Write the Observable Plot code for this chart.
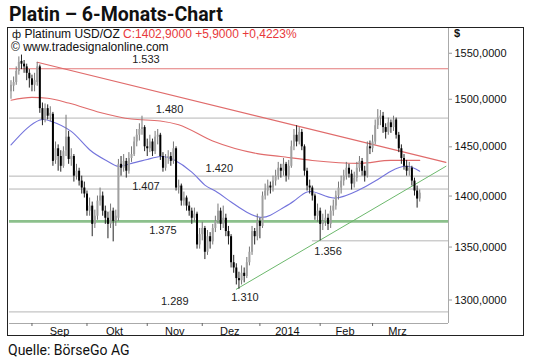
<!DOCTYPE html>
<html><head><meta charset="utf-8">
<script src="https://cdn.jsdelivr.net/npm/d3@7"></script>
<script src="https://cdn.jsdelivr.net/npm/@observablehq/plot@0.6"></script>
<style>
html,body{margin:0;padding:0;background:#fff;}
body{width:540px;height:360px;position:relative;overflow:hidden;font-family:"Liberation Sans",Arial,sans-serif;}
#title{position:absolute;left:9px;top:2px;font:700 19.5px/26px Roboto,sans-serif;color:#111;white-space:nowrap;}
#caption{position:absolute;left:8px;top:342px;font:400 14px/16px Roboto,sans-serif;color:#111;white-space:nowrap;}
#box{position:absolute;left:7px;top:27px;width:515px;height:307px;border:1.5px solid #222;background:#fff;}
#box svg{position:absolute;left:0;top:0;}
.ov{position:absolute;font:12px/12px "Liberation Sans",Arial,sans-serif;color:#111;white-space:nowrap;}
.red{color:#e8393b;}
</style></head>
<body>
<div id="title">Platin – 6-Monats-Chart</div>
<div id="box">
  <div class="ov" style="left:4px;top:0px;"><span style="font-size:11px">ф</span> Platinum USD/OZ <span class="red">C:1402,9000 +5,9000 +0,4223%</span></div>
  <div class="ov" style="left:3px;top:13.7px;line-height:11px;">© www.tradesignalonline.com</div>
  <div class="ov" style="left:446px;top:-1px;font-size:11px;font-weight:bold;">$</div>
</div>
<div id="caption">Quelle: BörseGo AG</div>
<script>
// ---- data (Platinum USD/OZ daily candles, 2013-08-21 .. 2014-03-27) ----
const firstDay = "2013-08-21";
const opens = [1508,1514,1518,1530,1541,1538,1535,1528,1522,1515,1518,1535,1490,1478,1490,1482,1484,1436,1448,1440,
1430,1446,1460,1437,1440,1420,1425,1415,1408,1402,1385,1390,1372,1380,1395,1400,1385,1378,1372,1385,
1375,1378,1432,1428,1435,1425,1438,1442,1455,1462,1468,1470,1450,1448,1455,1445,1460,1462,1440,1428,
1438,1440,1435,1448,1408,1410,1395,1398,1390,1385,1378,1382,1352,1362,1368,1345,1360,1355,1368,1375,
1385,1372,1378,1365,1360,1335,1330,1320,1318,1325,1322,1335,1345,1365,1360,1375,1370,1400,1405,1410,
1408,1415,1420,1428,1425,1432,1420,1430,1450,1462,1455,1465,1450,1425,1410,1408,1400,1380,1385,1372,
1375,1378,1372,1385,1390,1400,1408,1415,1420,1428,1422,1412,1418,1428,1435,1425,1420,1450,1448,1455,
1472,1480,1482,1470,1465,1475,1470,1478,1462,1448,1438,1430,1425,1428,1415,1405,1397];
const highs = [1520,1524,1535,1546,1548,1542,1538,1532,1526,1528,1540,1537,1496,1495,1494,1492,1486,1455,1452,1446,
1450,1483,1466,1448,1442,1432,1428,1420,1414,1405,1398,1394,1386,1400,1408,1404,1390,1384,1392,1388,
1386,1437,1440,1442,1438,1444,1450,1460,1468,1474,1482,1472,1458,1462,1458,1466,1468,1464,1444,1442,
1446,1444,1455,1450,1416,1412,1404,1400,1394,1388,1388,1384,1368,1374,1370,1366,1364,1372,1380,1392,
1388,1390,1382,1370,1362,1342,1334,1326,1332,1330,1340,1350,1370,1368,1382,1378,1404,1412,1416,1414,
1420,1426,1434,1432,1438,1434,1436,1456,1468,1472,1470,1468,1452,1428,1416,1410,1402,1392,1388,1382,
1386,1382,1390,1396,1405,1414,1420,1426,1434,1432,1426,1424,1434,1440,1438,1430,1455,1456,1462,1478,
1489,1488,1486,1474,1480,1478,1482,1480,1465,1452,1442,1436,1434,1430,1418,1410,1406];
const lows = [1500,1508,1515,1526,1532,1528,1520,1512,1508,1508,1514,1485,1472,1475,1478,1476,1430,1432,1425,1424,
1428,1440,1432,1430,1414,1416,1410,1402,1398,1380,1380,1360,1368,1376,1390,1380,1372,1358,1368,1355,
1370,1375,1420,1424,1418,1422,1434,1440,1450,1456,1462,1445,1440,1444,1440,1442,1452,1436,1424,1425,
1432,1430,1432,1405,1402,1390,1390,1385,1380,1372,1374,1348,1348,1356,1338,1342,1348,1352,1364,1372,
1366,1368,1360,1352,1330,1325,1314,1310,1314,1316,1320,1332,1342,1352,1356,1358,1368,1396,1400,1402,
1404,1410,1416,1418,1420,1414,1416,1428,1446,1450,1452,1446,1420,1405,1402,1395,1376,1374,1356,1366,
1370,1366,1368,1380,1386,1396,1402,1410,1416,1418,1406,1408,1414,1424,1420,1414,1418,1442,1444,1452,
1468,1472,1464,1458,1462,1464,1466,1458,1444,1432,1426,1420,1420,1410,1400,1388,1394];
const closes = [1515,1518,1530,1540,1538,1535,1528,1522,1515,1520,1535,1490,1478,1490,1482,1485,1435,1448,1440,1430,
1445,1460,1437,1440,1420,1425,1415,1408,1402,1385,1390,1372,1380,1395,1400,1385,1378,1372,1385,1375,
1380,1432,1428,1435,1425,1438,1442,1455,1462,1468,1470,1450,1448,1455,1445,1460,1462,1440,1428,1438,
1440,1435,1448,1408,1410,1395,1398,1390,1385,1378,1382,1352,1362,1368,1345,1360,1355,1368,1375,1385,
1372,1378,1365,1360,1335,1330,1320,1318,1325,1322,1335,1345,1365,1360,1375,1370,1400,1405,1410,1408,
1415,1420,1428,1425,1432,1420,1430,1450,1462,1455,1465,1450,1425,1410,1408,1400,1380,1385,1372,1375,
1378,1372,1385,1390,1400,1408,1415,1420,1428,1422,1412,1418,1428,1435,1425,1420,1450,1448,1455,1472,
1480,1482,1470,1465,1475,1470,1478,1462,1448,1438,1430,1425,1428,1415,1405,1397,1402.9];
// moving averages, read at sample bars (bar index from firstDay)
const ma200Bar = [0,8,14,22,34,46,57,64,77,94,103,115,133,145,156];
const ma200Val = [1499,1502,1501,1496,1486,1479,1477,1473,1456,1443,1440,1436,1433,1436,1436];
const ma50Bar = [0,6,11,15,23,30,37,41,46,52,57,62,69,74,78,84,90,95,99,103,108,113,118,124,132,139,145,151,156];
const ma50Val = [1452,1469,1478,1477,1466,1447,1435,1430,1433,1437,1440,1437,1424,1411,1405,1394,1384,1379,1381,1387,1395,1404,1402,1398,1405,1415,1425,1430,1425];
// marked levels
const levelValues = [1533,1480,1420,1407,1375,1356,1310,1289];
const levelLabels = ["1.533","1.480","1.420","1.407","1.375","1.356","1.310","1.289"];
const grayLevels = [1480,1420,1407,1289];
// trend lines (anchor date / price)
const resistDates = ["2013-09-04","2014-04-10"]; const resistVals = [1540,1434];
const supportDates = ["2013-12-19","2014-04-10"]; const supportVals = [1310,1430];
// axes
const monthStarts = ["2013-09-01","2013-10-01","2013-11-01","2013-12-01","2014-01-01","2014-02-01","2014-03-01"];
const monthMids = ["2013-09-15","2013-10-15","2013-11-15","2013-12-15","2014-01-15","2014-02-14","2014-03-14"];
const monthLabels = ["Sep","Okt","Nov","Dez","2014","Feb","Mrz"];
const yTicks = [1300,1350,1400,1450,1500,1550];

// ---- build ----
const t0 = new Date(firstDay + "T00:00:00Z");
function barIndex(s){
  const d = new Date(s + "T00:00:00Z"); let n = 0;
  for (let t = new Date(t0); t < d; t.setUTCDate(t.getUTCDate()+1)) { const w = t.getUTCDay(); if (w !== 0 && w !== 6) n++; }
  return n;
}
const rows = closes.map((c,i) => ({i, o: opens[i], h: highs[i], l: lows[i], c}));
const up = rows.filter(d => d.c >= d.o), down = rows.filter(d => d.c < d.o);
const ma200 = ma200Bar.map((b,k) => ({i: b, v: ma200Val[k]}));
const ma50 = ma50Bar.map((b,k) => ({i: b, v: ma50Val[k]}));
const resist = resistDates.map((s,k) => ({i: barIndex(s), v: resistVals[k]}));
const support = supportDates.map((s,k) => ({i: barIndex(s), v: supportVals[k]}));
const tickIdx = monthStarts.map(barIndex);
const midIdx = monthMids.map(s => barIndex(s) + 0.5);
const labelAt = new Map(midIdx.map((m,k) => [m, monthLabels[k]]));
const xDom = [-0.57, 166.98], yDom = [1278.4, 1577.6];
const lvl = v => ({v, t: levelLabels[levelValues.indexOf(v)]});
const annots = [[1533,51.5,-9],[1480,60.5,-8.5],[1420,79.5,-7.5],[1407,51.5,-3],[1375,58,9.5],[1356,121,10.5],[1310,89.3,8.5],[1289,62.5,-10]];
const fmt = d => d.toFixed(4).replace(".", ",");

const chart = Plot.plot({
  width: 515, height: 307,
  marginLeft: 1, marginRight: 75, marginTop: 0, marginBottom: 12,
  x: {type: "linear", domain: xDom, axis: null},
  y: {type: "log", domain: yDom, axis: null},
  style: {fontFamily: "'Liberation Sans', Arial, sans-serif", fontSize: "11px", color: "#111", background: "transparent", overflow: "visible"},
  marks: [
    Plot.ruleY(grayLevels, {stroke: "#b5b5b5", strokeWidth: 1}),
    Plot.line([{i:115,v:1356},{i:xDom[1],v:1356}], {x: "i", y: "v", stroke: "#b5b5b5", strokeWidth: 1}),
    Plot.ruleY([1533], {stroke: "#e37a7a", strokeWidth: 1.2}),
    Plot.ruleY([1375], {stroke: "#8cc08c", strokeWidth: 2.8}),
    Plot.line(ma200, {x: "i", y: "v", stroke: "#e06b6b", strokeWidth: 1.1, curve: "monotone-x"}),
    Plot.line(resist, {x: "i", y: "v", stroke: "#e06b6b", strokeWidth: 1.1}),
    Plot.line(support, {x: "i", y: "v", stroke: "#6cb86c", strokeWidth: 1}),
    Plot.line(ma50, {x: "i", y: "v", stroke: "#7474dc", strokeWidth: 1.1, curve: "natural"}),
    Plot.ruleX(up, {x: "i", y1: "l", y2: "h", stroke: "#777", strokeWidth: 1}),
    Plot.ruleX(down, {x: "i", y1: "l", y2: "h", stroke: "#222", strokeWidth: 1}),
    Plot.ruleX(up, {x: "i", y1: "o", y2: "c", stroke: "#a0a0a0", strokeWidth: 2}),
    Plot.ruleX(down, {x: "i", y1: "o", y2: "c", stroke: "#000", strokeWidth: 2}),
    ...annots.map(([v, i, dy]) => Plot.text([lvl(v)], {x: () => i, y: "v", text: "t", dy, fill: "#222", fontSize: 11})),
    Plot.ruleX([xDom[1]], {stroke: "#aaa", strokeWidth: 1}),
    Plot.ruleY([yDom[0]], {stroke: "#aaa", strokeWidth: 1}),
    Plot.axisY(yTicks, {anchor: "right", tickSize: 3, tickPadding: 3, tickFormat: fmt, label: null, stroke: "#999", fill: "#111", fontSize: 11}),
    Plot.axisX(tickIdx, {anchor: "bottom", tickSize: 3, tickFormat: () => "", label: null, stroke: "#666"}),
    Plot.axisX(midIdx, {anchor: "bottom", tickSize: 0, tickPadding: 4, tickFormat: d => labelAt.get(d), label: null, fill: "#111", fontSize: 11})
  ]
});
document.getElementById("box").prepend(chart);
</script>
</body></html>
